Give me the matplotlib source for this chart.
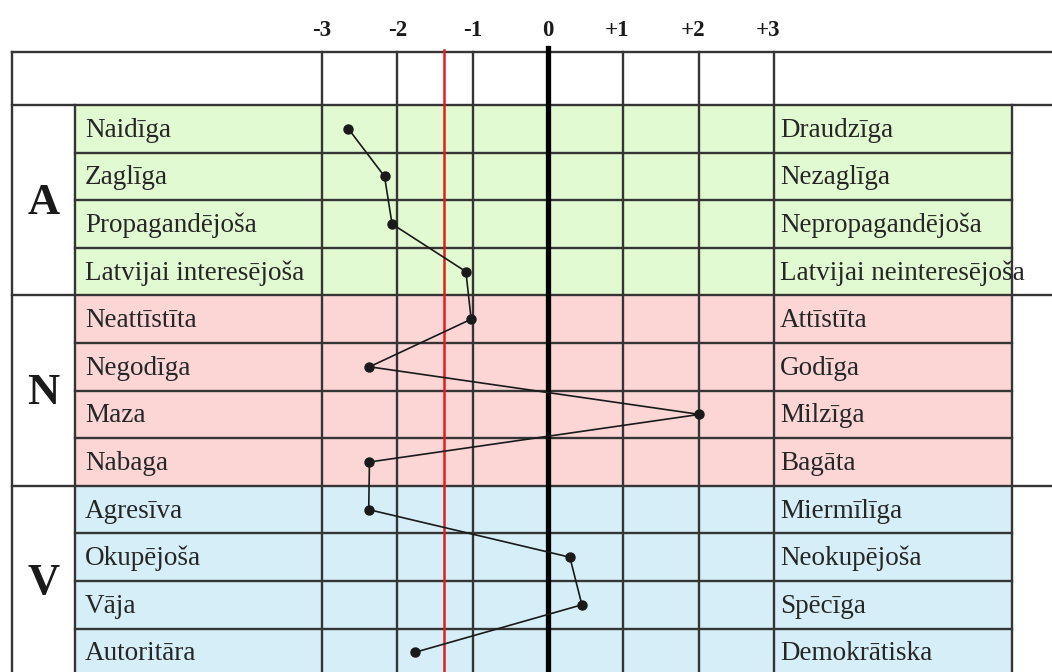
import matplotlib
matplotlib.use("Agg")
import matplotlib.pyplot as plt

# ---- data ----
groups = ["A", "N", "V"]
left_labels = ["Naidīga", "Zaglīga", "Propagandējoša", "Latvijai interesējoša",
               "Neattīstīta", "Negodīga", "Maza", "Nabaga",
               "Agresīva", "Okupējoša", "Vāja", "Autoritāra"]
right_labels = ["Draudzīga", "Nezaglīga", "Nepropagandējoša", "Latvijai neinteresējoša",
                "Attīstīta", "Godīga", "Milzīga", "Bagāta",
                "Miermīlīga", "Neokupējoša", "Spēcīga", "Demokrātiska"]
values = [-2.65, -2.17, -2.07, -1.09, -1.02, -2.37, 2.01, -2.37, -2.38, 0.29, 0.45, -1.77]
scale_ticks = [-3, -2, -1, 0, 1, 2, 3]
scale_tick_labels = ["-3", "-2", "-1", "0", "+1", "+2", "+3"]
mean_value = -1.38

group_colors = ["#e2fad2", "#fcd5d5", "#d6eef8"]

# ---- layout (pixel geometry -> data units) ----
W, H = 1052, 672
PX_UNIT = 75.33      # pixels per scale unit
X0_PX = 548          # pixel of scale 0
ROW_PX = 47.6        # pixels per row
ROW0_PX = 128.8      # pixel centre of first row

def xd(px):
    return (px - X0_PX) / PX_UNIT

def yd(px):
    return (px - ROW0_PX) / ROW_PX

fig = plt.figure(figsize=(W / 100, H / 100), dpi=100)
ax = fig.add_axes([0, 0, 1, 1])
ax.set_xlim(xd(0), xd(W))
ax.set_ylim(yd(H), yd(0))
ax.axis("off")

n = len(left_labels)
per = n // len(groups)
x_left = xd(12)
x_inner = xd(75)
x_right = xd(1012)
y_head = yd(52)
y_bottom = yd(H + 10)
gc = "#353535"
lw = 1.7

# backgrounds
for g, col in enumerate(group_colors):
    ax.fill_between([x_inner, x_right], g * per - 0.5, (g + 1) * per - 0.5,
                    color=col, lw=0, zorder=0)

# horizontal lines inside groups
for i in range(n):
    if i % per != 0:
        ax.plot([x_inner, x_right], [i - 0.5, i - 0.5], color=gc, lw=lw, zorder=1)
# group separators and header
for g in range(len(groups)):
    ax.plot([x_left, xd(W)], [g * per - 0.5] * 2, color=gc, lw=lw, zorder=1)
ax.plot([x_left, xd(W)], [y_head] * 2, color=gc, lw=lw, zorder=1)

# vertical lines
ax.plot([x_left] * 2, [y_head, y_bottom], color=gc, lw=lw, zorder=1)
ax.plot([x_inner] * 2, [-0.5, y_bottom], color=gc, lw=lw, zorder=1)
ax.plot([x_right] * 2, [-0.5, y_bottom], color=gc, lw=lw, zorder=1)
for t in scale_ticks:
    if t == 0:
        ax.plot([t, t], [yd(48), y_bottom], color="black", lw=3.8, zorder=3)
    else:
        ax.plot([t, t], [y_head, y_bottom], color=gc, lw=lw, zorder=1)

# mean line
ax.plot([mean_value] * 2, [yd(50), y_bottom], color="#e41e1e", lw=1.8, zorder=2)

# tick labels
for t, lab in zip(scale_ticks, scale_tick_labels):
    shift = -0.08 if t > 0 else 0.0
    ax.text(t + shift, yd(30), lab, ha="center", va="center", fontsize=16.5,
            fontweight="bold", family="Liberation Serif", color="#1a1a1a")

# row labels
tc = "#262626"
for i, (l, r) in enumerate(zip(left_labels, right_labels)):
    ax.text(xd(85), i + 0.03, l, ha="left", va="center", fontsize=19.5,
            family="Liberation Serif", color=tc, zorder=4)
    ax.text(xd(780), i + 0.03, r, ha="left", va="center", fontsize=19.5,
            family="Liberation Serif", color=tc, zorder=4)

# group letters
for g, name in enumerate(groups):
    ax.text((x_left + x_inner) / 2, g * per + (per - 1) / 2 + 0.05, name,
            ha="center", va="center", fontsize=32, fontweight="bold",
            family="Liberation Serif", color="#1a1a1a")

# profile line
ax.plot(values, range(n), color="#1a1a1a", lw=1.2, marker="o", markersize=6.5,
        zorder=5)

fig.savefig("out.png", dpi=100)
